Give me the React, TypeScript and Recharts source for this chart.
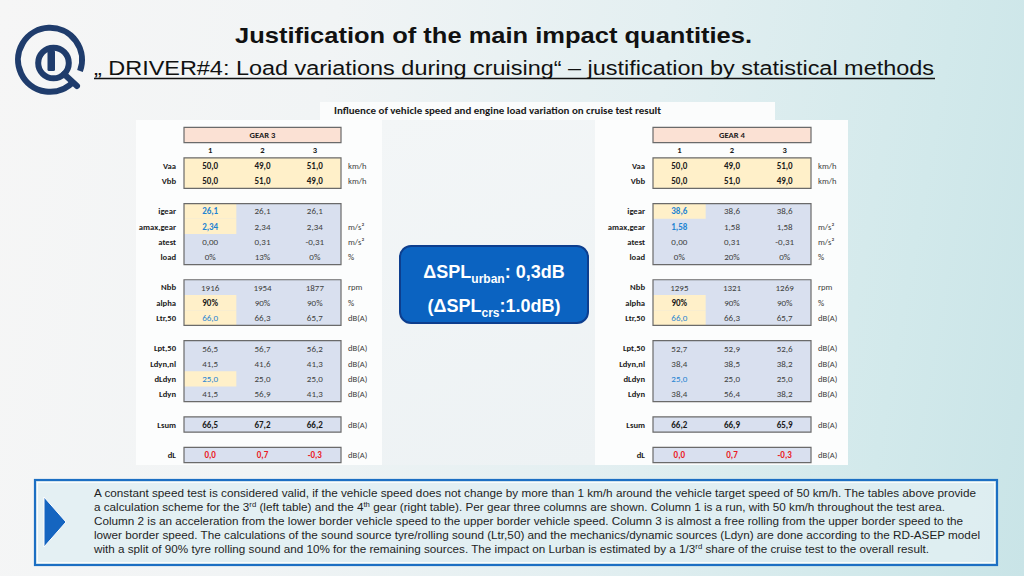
import React from 'react';
import { ScatterChart, Scatter, XAxis, YAxis, ReferenceArea } from 'recharts';

// ---------- DATA ----------
const columnNumbers = [1, 2, 3];
const rowLabels = ['Vaa', 'Vbb', 'igear', 'amax,gear', 'atest', 'load', 'Nbb', 'alpha', 'Ltr,50', 'Lpt,50', 'Ldyn,nl', 'dLdyn', 'Ldyn', 'Lsum', 'dL'];
const rowUnits = ['km/h', 'km/h', '', 'm/s²', 'm/s²', '%', 'rpm', '%', 'dB(A)', 'dB(A)', 'dB(A)', 'dB(A)', 'dB(A)', 'dB(A)', 'dB(A)'];
const rowDecimals = [1, 1, 1, 2, 2, 0, 0, 0, 1, 1, 1, 1, 1, 1, 1];
const rowSuffix = ['', '', '', '', '', '%', '', '%', '', '', '', '', '', '', ''];
const groupSizes = [2, 4, 3, 4, 1, 1];

const gear3Values = [
  [50.0, 49.0, 51.0],
  [50.0, 51.0, 49.0],
  [26.1, 26.1, 26.1],
  [2.34, 2.34, 2.34],
  [0.0, 0.31, -0.31],
  [0, 13, 0],
  [1916, 1954, 1877],
  [90, 90, 90],
  [66.0, 66.3, 65.7],
  [56.5, 56.7, 56.2],
  [41.5, 41.6, 41.3],
  [25.0, 25.0, 25.0],
  [41.5, 56.9, 41.3],
  [66.5, 67.2, 66.2],
  [0.0, 0.7, -0.3],
];
const gear4Values = [
  [50.0, 49.0, 51.0],
  [50.0, 51.0, 49.0],
  [38.6, 38.6, 38.6],
  [1.58, 1.58, 1.58],
  [0.0, 0.31, -0.31],
  [0, 20, 0],
  [1295, 1321, 1269],
  [90, 90, 90],
  [66.0, 66.3, 65.7],
  [52.7, 52.9, 52.6],
  [38.4, 38.5, 38.2],
  [25.0, 25.0, 25.0],
  [38.4, 56.4, 38.2],
  [66.2, 66.9, 65.9],
  [0.0, 0.7, -0.3],
];

const boldRows = ['Vaa', 'Vbb', 'Lsum', 'dL'];
const redRows = ['dL'];
const yellowRows = ['Vaa', 'Vbb'];
const gear3YellowFirst = ['igear', 'amax,gear', 'alpha', 'Ltr,50', 'dLdyn'];
const gear4YellowFirst = ['igear', 'alpha', 'Ltr,50'];
const blueFirst = ['igear', 'amax,gear', 'Ltr,50', 'dLdyn'];
const boldFirst = ['igear', 'amax,gear', 'alpha'];

const paragraphLines: { parts: { t: string; sup?: boolean }[]; w: number }[] = [
  { parts: [{ t: 'A constant speed test is considered valid, if the vehicle speed does not change by more than 1 km/h around the vehicle target speed of 50 km/h. The tables above provide' }], w: 882 },
  { parts: [{ t: 'a calculation scheme for the 3' }, { t: 'rd', sup: true }, { t: ' (left table) and the 4' }, { t: 'th', sup: true }, { t: ' gear (right table). Per gear three columns are shown. Column 1 is a run, with 50 km/h throughout the test area.' }], w: 851 },
  { parts: [{ t: 'Column 2 is an acceleration from the lower border vehicle speed to the upper border vehicle speed. Column 3 is almost a free rolling from the upper border speed to the' }], w: 869 },
  { parts: [{ t: 'lower border speed. The calculations of the sound source tyre/rolling sound (Ltr,50) and the mechanics/dynamic sources (Ldyn) are done according to the RD-ASEP model' }], w: 886 },
  { parts: [{ t: 'with a split of 90% tyre rolling sound and 10% for the remaining sources. The impact on Lurban is estimated by a 1/3' }, { t: 'rd', sup: true }, { t: ' share of the cruise test to the overall result.' }], w: 835 },
];

// ---------- LAYOUT HELPERS ----------
const rowPos: number[] = [];
const groupRanges: [number, number][] = [];
{
  let r = 2;
  let k = 0;
  groupSizes.forEach((g) => {
    const start = r;
    for (let i = 0; i < g; i++) {
      rowPos[k++] = r++;
    }
    groupRanges.push([start, r - 1]);
    r++;
  });
}
const lastRow = rowPos[rowPos.length - 1];

const fmt = (v: number, d: number, s: string) => v.toFixed(d).replace('.', ',') + s;

const TABLE_FONT = 'Carlito, Calibri, "Open Sans", "Noto Sans", sans-serif';
const SLIDE_FONT = '"Liberation Sans", Arial, Helvetica, sans-serif';
const DARK = '#1b1b1b';
const GREY = '#404040';
const BLUE = '#1f84d2';
const RED = '#ea1a24';
const YELLOW = '#fff0c9';
const LAVENDER = '#d9e0ef';
const SALMON = '#fbe1d4';
const BORDER = '#6a6a6a';
const FS = 8.6;
const VFS = 9;

type Cell = { x: number; y: number; text: string; anchor: string; dx: number; bold: boolean; color: string; size: number };

function buildCells(title: string, values: number[][]): Cell[] {
  const cells: Cell[] = [];
  cells.push({ x: 2, y: 0, text: title, anchor: 'middle', dx: 0, bold: true, color: DARK, size: FS });
  columnNumbers.forEach((c) => cells.push({ x: c, y: 1, text: String(c), anchor: 'middle', dx: 0, bold: true, color: DARK, size: FS }));
  rowLabels.forEach((lab, i) => {
    const y = rowPos[i];
    cells.push({ x: 0.5, y, text: lab, anchor: 'end', dx: -8, bold: true, color: DARK, size: FS });
    if (rowUnits[i]) cells.push({ x: 3.5, y, text: rowUnits[i], anchor: 'start', dx: 7, bold: false, color: GREY, size: FS });
    values[i].forEach((v, j) => {
      const first = j === 0;
      let color = boldRows.includes(lab) ? DARK : GREY;
      if (redRows.includes(lab)) color = RED;
      if (first && blueFirst.includes(lab)) color = BLUE;
      if (first && lab === 'alpha') color = DARK;
      const bold = boldRows.includes(lab) || (first && boldFirst.includes(lab));
      cells.push({ x: columnNumbers[j], y, text: fmt(v, rowDecimals[i], rowSuffix[i]), anchor: 'middle', dx: 0, bold, color, size: VFS });
    });
  });
  return cells;
}

const CellText = (props: any) => {
  const { cx, cy, payload } = props;
  if (cx == null || cy == null) return <g />;
  return (
    <text
      x={cx + payload.dx}
      y={cy}
      dy="0.36em"
      textAnchor={payload.anchor}
      fontSize={payload.size}
      fontWeight={payload.bold ? 700 : 400}
      fill={payload.color}
      fontFamily={TABLE_FONT}
    >
      {payload.text}
    </text>
  );
};

function GearTable(props: { title: string; values: number[][]; yellowFirst: string[]; left: number; width: number; ml: number; mr: number }) {
  const { title, values, yellowFirst, left, width, ml, mr } = props;
  const cells = buildCells(title, values);
  return (
    <div style={{ position: 'absolute', left, top: 120, width, height: 345 }}>
      <ScatterChart width={width} height={345} margin={{ top: 7.4, bottom: 2.4, left: ml, right: mr }} style={{ overflow: 'visible' }}>
        <XAxis type="number" dataKey="x" domain={[0.5, 3.5]} hide />
        <YAxis type="number" dataKey="y" domain={[-0.5, lastRow + 0.5]} reversed hide />
        <ReferenceArea x1={0.5} x2={3.5} y1={-0.5} y2={0.5} fill={SALMON} fillOpacity={1} stroke={BORDER} strokeWidth={1.2} ifOverflow="visible" />
        {groupRanges.map(([a, b], gi) => (
          <ReferenceArea
            key={'g' + gi}
            x1={0.5}
            x2={3.5}
            y1={a - 0.5}
            y2={b + 0.5}
            fill={yellowRows.includes(rowLabels[rowPos.indexOf(a)]) ? YELLOW : LAVENDER}
            fillOpacity={1}
            stroke="none"
            ifOverflow="visible"
          />
        ))}
        {rowLabels.map((lab, i) =>
          yellowFirst.includes(lab) ? (
            <ReferenceArea key={'y' + i} x1={0.5} x2={1.5} y1={rowPos[i] - 0.5} y2={rowPos[i] + 0.5} fill={YELLOW} fillOpacity={1} stroke="none" ifOverflow="visible" />
          ) : null
        )}
        {groupRanges.map(([a, b], gi) => (
          <ReferenceArea key={'b' + gi} x1={0.5} x2={3.5} y1={a - 0.5} y2={b + 0.5} fill="none" fillOpacity={0} stroke={BORDER} strokeWidth={1.2} ifOverflow="visible" />
        ))}
        <Scatter data={cells} shape={CellText} isAnimationActive={false} />
      </ScatterChart>
    </div>
  );
}

export default function App() {
  return (
    <div
      style={{
        position: 'absolute',
        left: 0,
        top: 0,
        width: 1024,
        height: 576,
        overflow: 'hidden',
        background: 'linear-gradient(100deg, #f6f6f6 0%, #f1f4f5 30%, #e3eff1 60%, #d2e9eb 85%, #c9e4e7 100%)',
        fontFamily: SLIDE_FONT,
      }}
    >
      {/* screenshot panels */}
      <div style={{ position: 'absolute', left: 320, top: 102, width: 455, height: 18, background: '#fbfcfc' }} />
      <div style={{ position: 'absolute', left: 136, top: 120, width: 246, height: 345, background: '#fcfdfd' }} />
      <div style={{ position: 'absolute', left: 382, top: 120, width: 213, height: 345, background: 'linear-gradient(160deg, #f3f6f7 0%, #edf2f4 100%)' }} />
      <div style={{ position: 'absolute', left: 595, top: 120, width: 253, height: 345, background: '#fcfdfd' }} />

      <GearTable title="GEAR 3" values={gear3Values} yellowFirst={gear3YellowFirst} left={136} width={246} ml={48} mr={41} />
      <GearTable title="GEAR 4" values={gear4Values} yellowFirst={gear4YellowFirst} left={595} width={253} ml={58} mr={37} />

      <svg width={1024} height={576} style={{ position: 'absolute', left: 0, top: 0, pointerEvents: 'none' }}>
        {/* logo */}
        <g stroke="#1f3c6c" fill="none" strokeWidth={6}>
          <path d="M 74 81 A 32 32 0 1 1 80 71" strokeLinecap="butt" />
          <circle cx={53.5} cy={63} r={15.3} />
          <line x1={64} y1={74} x2={77} y2={86} strokeLinecap="round" />
        </g>
        <rect x={47.5} y={50} width={7.5} height={21} rx={1.5} fill="#1f3c6c" />

        {/* titles */}
        <text x={493.5} y={43} textAnchor="middle" fontSize={22.4} fontWeight={700} fill="#111" textLength={517} lengthAdjust="spacingAndGlyphs">
          Justification of the main impact quantities.
        </text>
        <text x={94} y={75} fontSize={19.6} fill="#111" textLength={840} lengthAdjust="spacingAndGlyphs">
          „ DRIVER#4: Load variations during cruising“ – justification by statistical methods
        </text>
        <line x1={94} y1={78.5} x2={935} y2={78.5} stroke="#111" strokeWidth={1.3} />

        <text x={334} y={114} fontSize={10.5} fontWeight={700} fill="#1a1a1a" fontFamily={TABLE_FONT} textLength={327} lengthAdjust="spacingAndGlyphs">
          Influence of vehicle speed and engine load variation on cruise test result
        </text>

        {/* center box */}
        <rect x={400} y={246} width={188} height={77} rx={11} fill="#0b63c1" stroke="#0d3e8e" strokeWidth={2} />
        <text x={494} y={278} textAnchor="middle" fontSize={18} fontWeight={700} fill="#ffffff">
          ΔSPL<tspan fontSize={12} dy={5}>urban</tspan>
          <tspan dy={-5}>: 0,3dB</tspan>
        </text>
        <text x={494} y={312} textAnchor="middle" fontSize={18} fontWeight={700} fill="#ffffff">
          (ΔSPL<tspan fontSize={12} dy={5}>crs</tspan>
          <tspan dy={-5}>:1.0dB)</tspan>
        </text>

        {/* bottom box */}
        <rect x={35} y={480} width={962} height={85} fill="#e1eff2" fillOpacity={0.85} stroke="#1c6fc3" strokeWidth={2.2} />
        <rect x={37.5} y={482.5} width={957} height={80} fill="none" stroke="#ffffff" strokeWidth={1} strokeOpacity={0.8} />
        <polygon points="44,497 66,522 44,547" fill="#1565c0" stroke="#ffffff" strokeWidth={1} />
        {paragraphLines.map((ln, i) => (
          <text key={i} x={94} y={497 + i * 14} fontSize={11.3} fill="#1e1e1e" textLength={ln.w} lengthAdjust="spacingAndGlyphs">
            {ln.parts.map((p, j) =>
              p.sup ? (
                <tspan key={j} fontSize={7.5} dy={-4}>
                  {p.t}
                </tspan>
              ) : (
                <tspan key={j} fontSize={11.3} dy={j > 0 && ln.parts[j - 1].sup ? 4 : 0}>
                  {p.t}
                </tspan>
              )
            )}
          </text>
        ))}
      </svg>
    </div>
  );
}
